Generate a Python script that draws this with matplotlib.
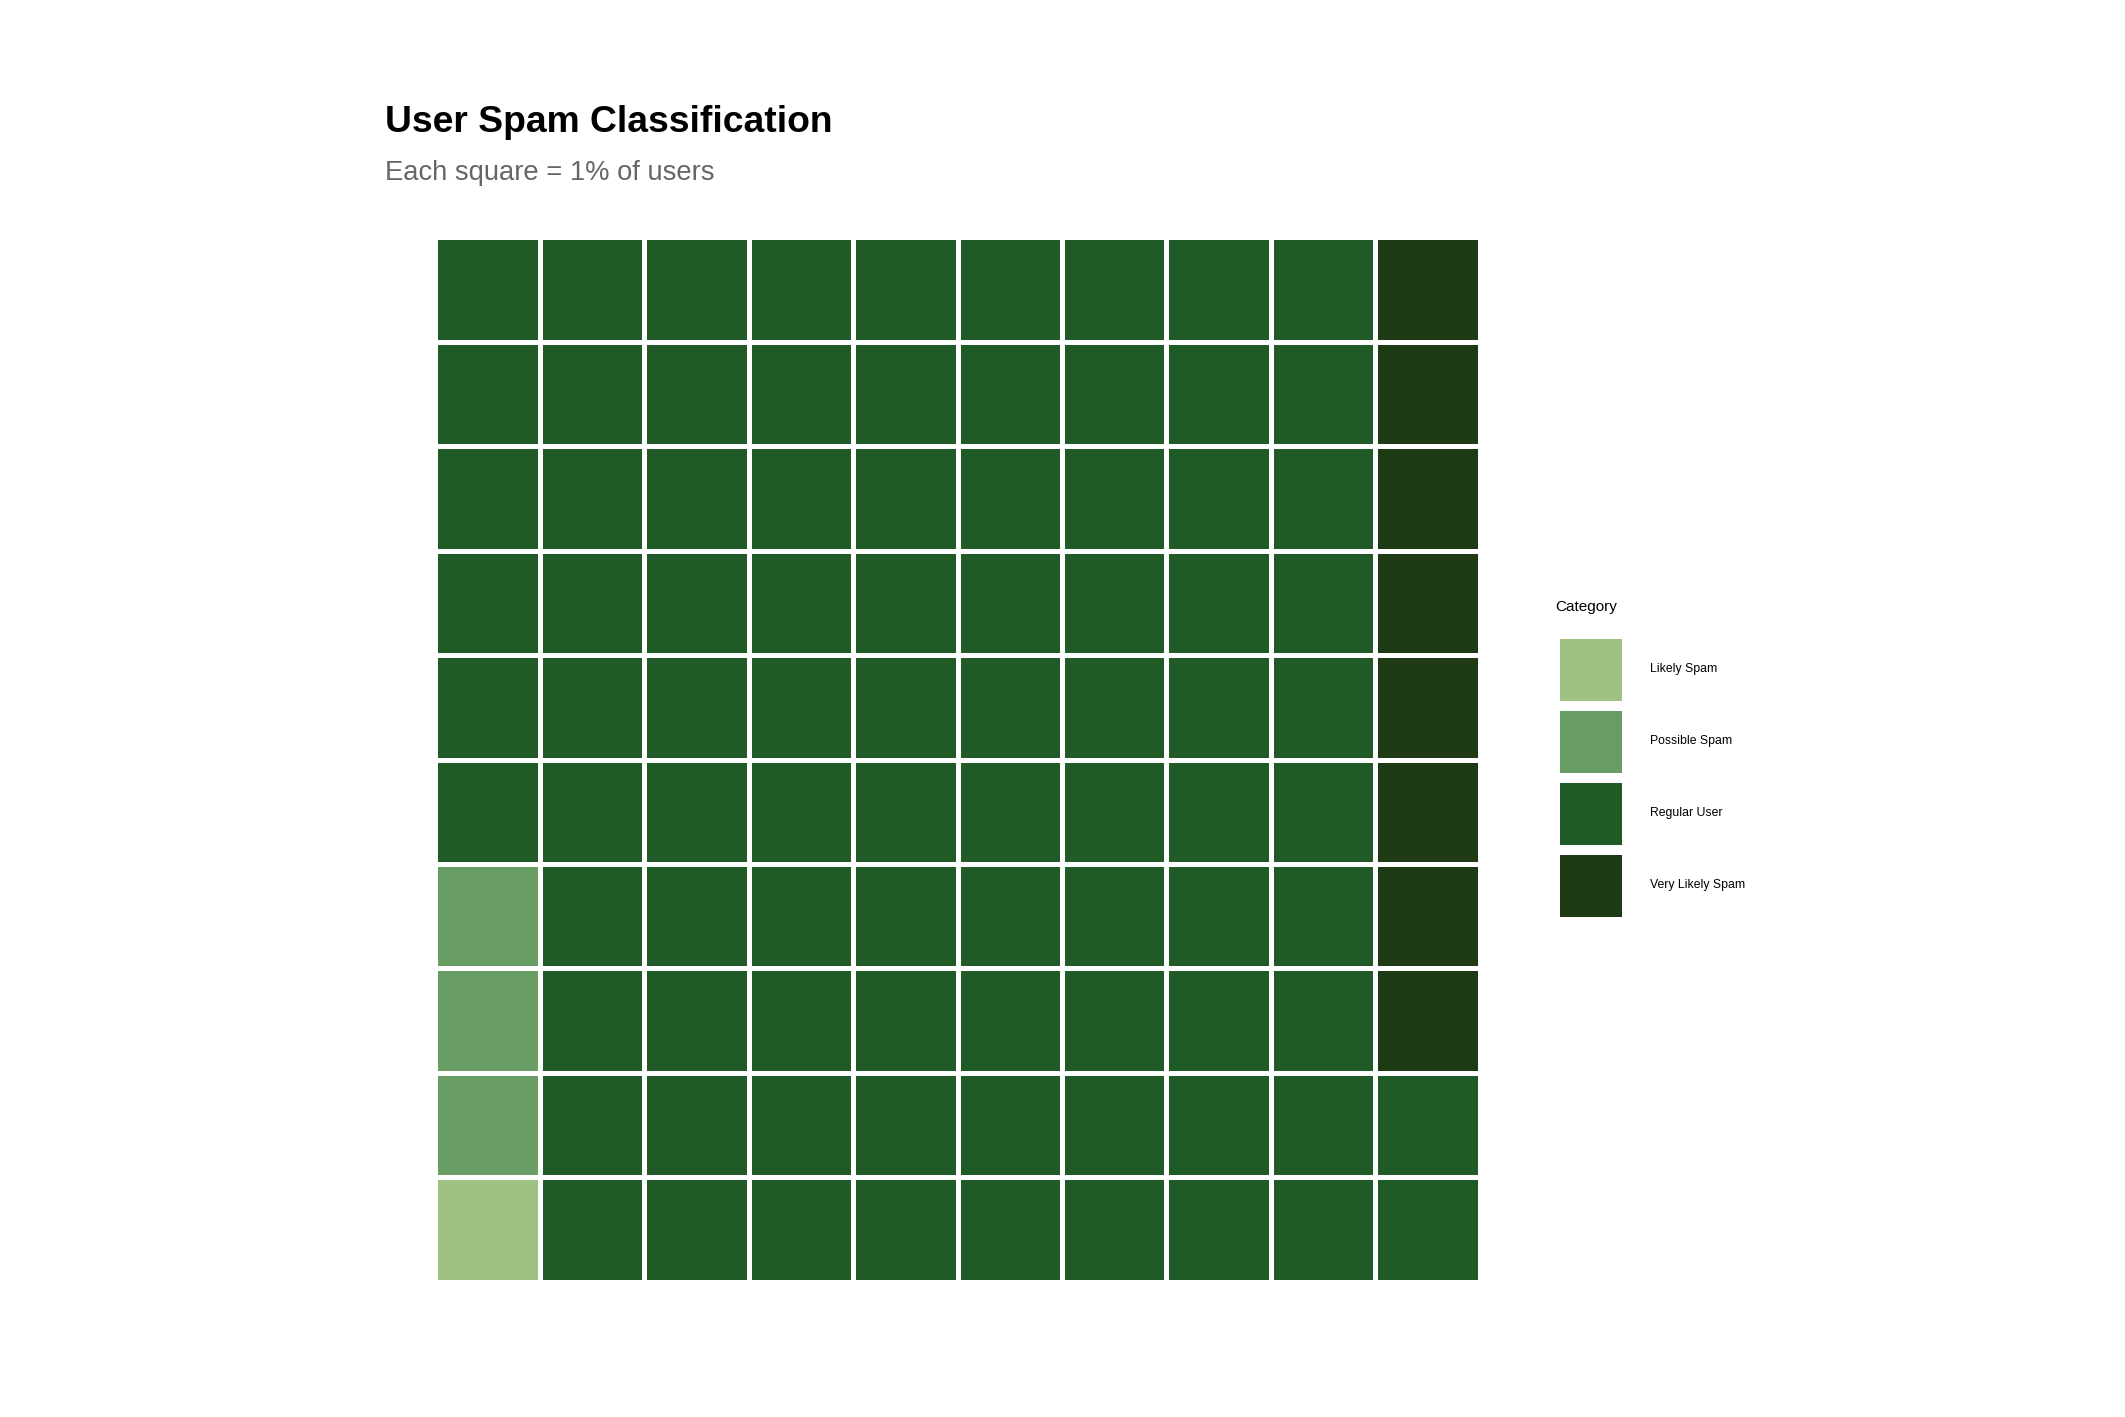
import numpy as np
import matplotlib
matplotlib.use("Agg")
import matplotlib.pyplot as plt
from matplotlib.colors import ListedColormap
from matplotlib.patches import Patch

plt.rcParams["font.family"] = ["Liberation Sans", "DejaVu Sans"]

# ── Data ──────────────────────────────────────────────────────────────────────
CATEGORIES = ["Likely Spam", "Possible Spam", "Regular User", "Very Likely Spam"]
COUNTS     = [1, 3, 88, 8]          # percent of users, one square each
COLORS     = ["#9ec184", "#689e64", "#1f5a27", "#1f3b16"]
N_ROWS, N_COLS = 10, 10

# fill column by column, bottom to top
codes = np.repeat(np.arange(len(CATEGORIES)), COUNTS)
grid = codes.reshape(N_COLS, N_ROWS).T   # grid[row, col], row 0 = bottom

# ── Figure ────────────────────────────────────────────────────────────────────
W, H = 2125, 1417
fig = plt.figure(figsize=(W / 100, H / 100), dpi=100)

LW_PT = 2.2
pad = LW_PT * 100 / 72 / 2          # half edge width in px, so tiles reach the outer box
left, right, top, bottom = 437 - pad, 1478 + pad, 239 - pad, 1280 + pad
ax = fig.add_axes([left / W, 1 - bottom / H, (right - left) / W, (bottom - top) / H])
ax.pcolormesh(np.arange(N_COLS + 1), np.arange(N_ROWS + 1), grid,
              cmap=ListedColormap(COLORS), vmin=-0.5, vmax=len(CATEGORIES) - 0.5,
              edgecolors="white", linewidth=LW_PT)
ax.set_xlim(0, N_COLS); ax.set_ylim(0, N_ROWS)
ax.set_aspect("auto")
ax.axis("off")

fig.text(385 / W, 1 - 132 / H, "User Spam Classification",
         fontsize=26.8, fontweight="bold", va="baseline", ha="left")
fig.text(385 / W, 1 - 180 / H, "Each square = 1% of users",
         fontsize=19.7, color="#666666", va="baseline", ha="left")

# legend title drawn separately so the gap to the keys can be matched
fig.text(1555 / W, 1 - 611 / H, "Category", fontsize=11, va="baseline", ha="left")

FS = 8.8
fs_px = FS * 100 / 72
key_px = 62
h_len = key_px / fs_px
h_hgt = (h_len - 0.245) / 0.65
handles = [Patch(facecolor=c, edgecolor="none") for c in COLORS]
leg = fig.legend(handles, CATEGORIES, loc="upper left",
                 bbox_to_anchor=(1560 / W, 1 - 639 / H), frameon=False,
                 fontsize=FS, handlelength=h_len, handleheight=h_hgt,
                 handletextpad=28 / fs_px, labelspacing=10 / fs_px,
                 borderpad=0, borderaxespad=0)

fig.savefig("out.png", dpi=100, facecolor="white")
